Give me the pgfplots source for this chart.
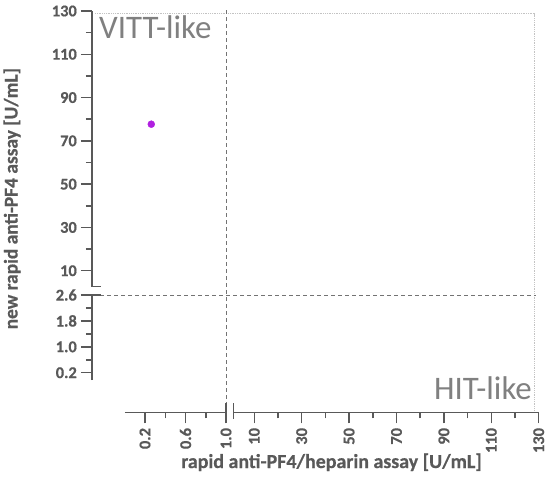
\documentclass[border=0pt]{standalone}
\usepackage{fontspec}
\setmainfont{Carlito}
\newfontface\hvy{Carlito Bold}[FakeBold=0.6]
\usepackage{pgfplots}
\pgfplotsset{compat=1.18}
\definecolor{axgray}{RGB}{89,89,89}
\definecolor{txtgray}{RGB}{128,128,128}
\definecolor{dashgray}{RGB}{115,115,115}
\definecolor{dotgray}{RGB}{195,195,195}
\definecolor{ptcol}{RGB}{176,32,224}
\pgfplotsset{
  brk/.style={
    scale only axis,
    clip=false,
    axis line style={axgray, line width=1.5bp, -},
    every tick/.style={axgray, line width=1.5bp},
    major tick length=11bp,
    minor tick length=6bp,
    /pgf/number format/assume math mode=true,
  },
  ybrk/.style={
    brk,
    axis y line*=left, axis x line=none,
    ytick align=outside,
    xtick=\empty,
    yticklabel style={text=axgray, font=\hvy\fontsize{16.5}{16.5}\selectfont, inner sep=4bp},
  },
  xbrk/.style={
    brk,
    axis x line*=bottom, axis y line=none,
    xtick align=outside,
    ytick=\empty,
    height=10bp,
    xticklabel style={text=axgray, font=\hvy\fontsize{16.5}{16.5}\selectfont, rotate=90, anchor=east, inner sep=4.5bp},
  },
}
\begin{document}
\begin{tikzpicture}
\path[use as bounding box] (0,0) rectangle (550bp,-481bp);
% frame axis in pixel units for reference lines and texts
\begin{axis}[scale only axis, at={(0,-481bp)}, anchor=south west,
  width=550bp, height=481bp, xmin=0, xmax=550, ymin=0, ymax=481,
  y dir=reverse, hide axis, clip=false]
  \draw[dotgray, line width=0.8bp, densely dotted] (axis cs:95,13.5) -- (axis cs:534,13.5) -- (axis cs:534,412);
  \draw[dashgray, line width=1bp, dash pattern=on 4bp off 3bp] (axis cs:226,10) -- (axis cs:226,404);
  \draw[dashgray, line width=1bp, dash pattern=on 4bp off 3bp] (axis cs:100,295) -- (axis cs:536,295);
  % break marks
  \draw[axgray, line width=1.5bp] (axis cs:92,286.7) -- (axis cs:100.7,286.7);
  \draw[axgray, line width=1.5bp] (axis cs:92,295) -- (axis cs:100.7,295);
  \draw[axgray, line width=1.5bp] (axis cs:226,403) -- (axis cs:226,419);
  \draw[axgray, line width=1.5bp] (axis cs:233.5,403) -- (axis cs:233.5,419);
  \node[anchor=base west, text=txtgray, font=\fontsize{33}{33}\selectfont, inner sep=0pt] at (axis cs:99,38.3) {VITT-like};
  \node[anchor=base east, text=txtgray, font=\fontsize{33}{33}\selectfont, inner sep=0pt] at (axis cs:532,399) {HIT-like};
  \node[anchor=base, text=axgray, font=\hvy\fontsize{20}{20}\selectfont, inner sep=0pt] at (axis cs:331.5,468) {rapid anti-PF4/heparin assay [U/mL]};
  \node[anchor=base, rotate=90, text=axgray, font=\hvy\fontsize{19.5}{19.5}\selectfont, inner sep=0pt] at (axis cs:17.5,198.7) {new rapid anti-PF4 assay [U/mL]};
\end{axis}
% upper y axis with data
\begin{axis}[ybrk, at={(92bp,-286.7bp)}, anchor=south west,
  width=134bp, height=275.7bp,
  xmin=-0.3235, xmax=1.0, ymin=2.62, ymax=130,
  ytick={10,30,50,70,90,110,130}, minor ytick={20,40,60,80,100,120}]
  \addplot[only marks, mark=*, mark size=3.5bp, ptcol, mark options={draw=ptcol, fill=ptcol}] coordinates {(0.262,77.7)};
\end{axis}
% lower y axis
\begin{axis}[ybrk, at={(92bp,-380bp)}, anchor=south west,
  width=10bp, height=85bp,
  xmin=0, xmax=1, ymin=-0.024, ymax=2.6,
  ytick={0.2,1.0,1.8,2.6}, minor ytick={0.6,1.4,2.2},
  yticklabel style={/pgf/number format/.cd, fixed, fixed zerofill, precision=1}]
\end{axis}
% left x axis
\begin{axis}[xbrk, at={(124.75bp,-412.3bp)}, anchor=south west,
  width=101.25bp, xmin=0, xmax=1.0, ymin=0, ymax=1,
  xtick={0.2,0.6,1.0}, minor xtick={0.4,0.8},
  xticklabel style={/pgf/number format/.cd, fixed, fixed zerofill, precision=1}]
\end{axis}
% right x axis
\begin{axis}[xbrk, at={(233.5bp,-412.3bp)}, anchor=south west,
  width=305.2bp, xmin=1.24, xmax=130, ymin=0, ymax=1,
  xtick={10,30,50,70,90,110,130}, minor xtick={20,40,60,80,100,120}]
\end{axis}
\end{tikzpicture}
\end{document}
